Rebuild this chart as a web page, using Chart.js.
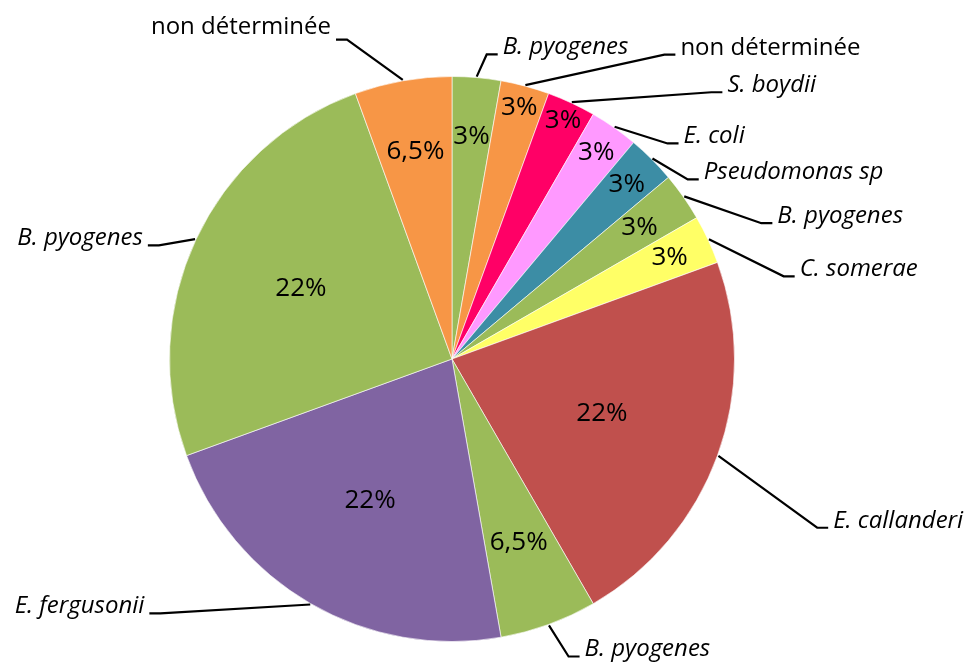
<!DOCTYPE html>
<html>
<head>
<meta charset="utf-8">
<script src="https://cdn.jsdelivr.net/npm/chart.js@4"></script>
<style>
  html, body { margin: 0; padding: 0; background: #fff; }
  canvas { display: block; }
</style>
</head>
<body>
<canvas id="pieChart" width="970" height="662"></canvas>
<script>
// donnees (dans l'ordre horaire depuis midi)
const species = ['B. pyogenes', 'non déterminée', 'S. boydii', 'E. coli', 'Pseudomonas sp',
  'B. pyogenes', 'C. somerae', 'E. callanderi', 'B. pyogenes', 'E. fergusonii',
  'B. pyogenes', 'non déterminée'];
const counts = [1, 1, 1, 1, 1, 1, 1, 8, 2, 8, 9, 2];
const percentLabels = ['3%', '3%', '3%', '3%', '3%', '3%', '3%', '22%', '6,5%', '22%', '22%', '6,5%'];
const italicName = [true, false, true, true, true, true, true, true, true, true, true, false];

const colors = ['#9BBB59', '#F79646', '#FF0066', '#FF99FF', '#3C8DA5', '#9BBB59',
  '#FFFF66', '#C0504D', '#9BBB59', '#8064A2', '#9BBB59', '#F79646'];

// placement des etiquettes (angle depuis midi en degres, distance / rayon)
const pctRadius = [0.79, 0.92, 0.93, 0.89, 0.875, 0.81, 0.85, 0.565, 0.69, 0.58, 0.59, 0.745];
const elbowAngle = [6.5, 34.9, 44.2, 45, 52.7, 66.3, 76, 114.8, 158.6, 228.9, 291.2, 341.8];
const elbowDist = [1.085, 1.314, 1.317, 1.079, 1.049, 1.196, 1.21, 1.424, 1.131, 1.37, 1.113, 1.19];
const nameDy = [0, 0, 0, 0, 0, 0, 0, 0, 0, 0, 0, -6];

const FONT = '"Open Sans", "DejaVu Sans", sans-serif';

const labelPlugin = {
  id: 'pieLabels',
  afterDatasetsDraw(chart) {
    const ctx = chart.ctx;
    const arcs = chart.getDatasetMeta(0).data;
    ctx.save();
    arcs.forEach((arc, i) => {
      const cx = arc.x, cy = arc.y, r = arc.outerRadius;
      const mid = (arc.startAngle + arc.endAngle) / 2;

      // pourcentage a l'interieur
      ctx.fillStyle = '#000';
      ctx.font = '26px ' + FONT;
      ctx.textAlign = 'center';
      ctx.textBaseline = 'middle';
      const pr = r * pctRadius[i];
      ctx.fillText(percentLabels[i], cx + Math.cos(mid) * pr, cy + Math.sin(mid) * pr);

      // ligne de rappel
      const ax = cx + Math.cos(mid) * (r + 1);
      const ay = cy + Math.sin(mid) * (r + 1);
      const ea = (elbowAngle[i] - 90) * Math.PI / 180;
      const ex = cx + Math.cos(ea) * r * elbowDist[i];
      const ey = cy + Math.sin(ea) * r * elbowDist[i];
      const right = Math.cos(ea) >= 0;
      const dir = right ? 1 : -1;
      const hx = ex + dir * 11;

      ctx.strokeStyle = '#000';
      ctx.lineWidth = 2.2;
      ctx.beginPath();
      ctx.moveTo(ax, ay);
      ctx.lineTo(ex, ey);
      ctx.lineTo(hx, ey);
      ctx.stroke();

      // nom de l'espece
      ctx.font = (italicName[i] ? 'italic ' : '') + '24px ' + FONT;
      ctx.textAlign = right ? 'left' : 'right';
      ctx.textBaseline = 'alphabetic';
      ctx.fillText(species[i], hx + dir * 5, ey + nameDy[i]);
    });
    ctx.restore();
  }
};

const ctx = document.getElementById('pieChart').getContext('2d');
new Chart(ctx, {
  type: 'pie',
  data: {
    labels: species,
    datasets: [{
      data: counts,
      backgroundColor: colors,
      borderColor: 'rgba(255,255,255,0.6)',
      borderWidth: 1
    }]
  },
  options: {
    responsive: false,
    animation: false,
    layout: {
      padding: { left: 169, right: 235, top: 76, bottom: 20 }
    },
    plugins: {
      legend: { display: false },
      tooltip: { enabled: false }
    }
  },
  plugins: [labelPlugin]
});
</script>
</body>
</html>
